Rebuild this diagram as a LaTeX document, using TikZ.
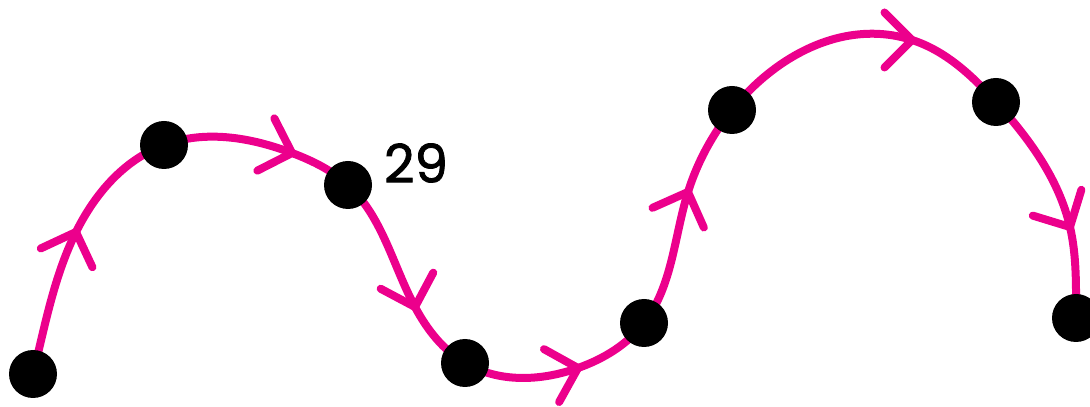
\documentclass[tikz,border=0pt]{standalone}
\usepackage{fontspec}
\newfontfamily\labfont[FakeBold=1.6]{Poppins}
\usetikzlibrary{hobby}
\definecolor{mag}{RGB}{236,0,140}
\begin{document}
\begin{tikzpicture}[x=1pt,y=1pt,
  curve/.style={draw=mag,line width=8pt,line cap=round,line join=round},
  chev/.style={draw=mag,line width=8pt,line cap=round,line join=miter},
  dot/.style={circle,fill=black,inner sep=0pt,minimum size=48pt}]
\useasboundingbox (0,0) rectangle (1090,407);
\coordinate (A) at (33,33);
\coordinate (B) at (164,262);
\coordinate (C) at (348,222);
\coordinate (D) at (465,44);
\coordinate (E) at (644,84);
\coordinate (F) at (732,297);
\coordinate (G) at (996,305);
\coordinate (H) at (1076,89);
\coordinate (m1) at (76,175);
\coordinate (m2) at (292,254);
\coordinate (m3) at (415,100);
\coordinate (m4) at (578,39);
\coordinate (m5) at (688,215);
\coordinate (m6) at (912,367);
\coordinate (m7) at (1070,180);
\draw[curve,use Hobby shortcut] ([out angle=76]A) .. (m1) .. (B) .. (m2) .. (C) .. (m3) .. (D) .. (m4) .. (E) .. (m5) .. (F) .. (m6) .. (G) .. (m7) .. ([in angle=90]H);
\foreach \p/\a in {m1/70,m2/-18,m3/-73,m4/16,m5/69,m6/0,m7/-62}{
  \draw[chev,shift={(\p)},rotate=\a] (-27.5,27.5) -- (0,0) -- (-27.5,-27.5);
}
\foreach \n in {A,B,C,D,E,F,G,H}{
  \node[dot] (d\n) at (\n) {};
}
\node[font=\labfont\fontsize{53}{53}\selectfont,anchor=center,text=black] (lab) at (416,244) {29};
\end{tikzpicture}
\end{document}
